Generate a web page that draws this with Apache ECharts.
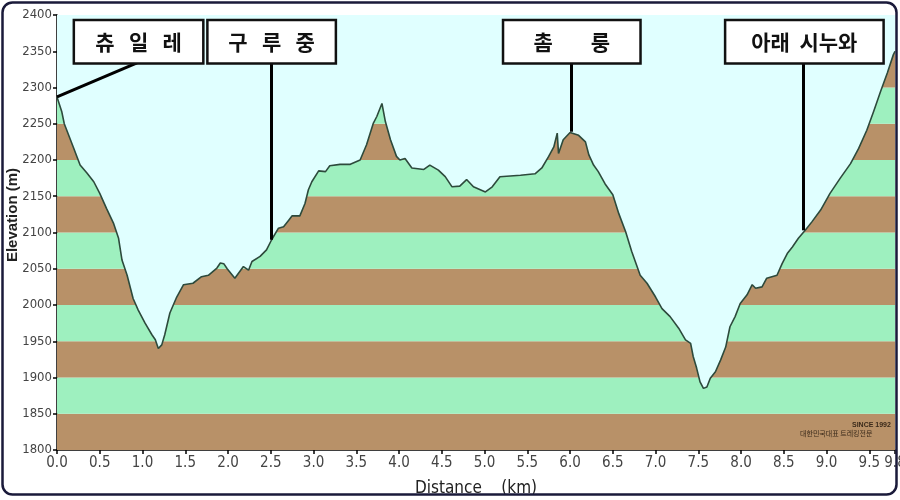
<!DOCTYPE html>
<html>
<head>
<meta charset="utf-8">
<script src="https://cdn.jsdelivr.net/npm/echarts@6/dist/echarts.min.js"></script>
<style>
  html, body { margin: 0; padding: 0; background: #ffffff; }
  #chart { width: 900px; height: 500px; }
</style>
</head>
<body>
<div id="chart"></div>
<script>
// ---- data ----
const distanceKm = [0.00,0.055,0.085,0.19,0.27,0.35,0.43,0.50,0.58,0.66,0.72,0.76,0.82,0.89,0.95,1.03,1.11,1.15,1.185,1.225,1.26,1.32,1.40,1.48,1.59,1.69,1.77,1.87,1.91,1.95,1.99,2.08,2.18,2.24,2.28,2.375,2.45,2.51,2.59,2.65,2.71,2.75,2.84,2.90,2.94,2.98,3.06,3.14,3.19,3.31,3.43,3.545,3.62,3.70,3.74,3.80,3.84,3.90,3.97,4.01,4.07,4.15,4.29,4.36,4.46,4.54,4.62,4.71,4.79,4.87,5.01,5.09,5.18,5.30,5.42,5.59,5.67,5.75,5.81,5.85,5.865,5.92,6.00,6.10,6.18,6.22,6.275,6.33,6.41,6.50,6.57,6.65,6.72,6.82,6.90,7.00,7.075,7.17,7.27,7.35,7.41,7.44,7.48,7.52,7.56,7.60,7.64,7.70,7.76,7.82,7.87,7.93,7.99,8.07,8.13,8.17,8.245,8.30,8.42,8.48,8.54,8.60,8.67,8.75,8.83,8.93,9.04,9.16,9.28,9.375,9.47,9.55,9.63,9.71,9.78,9.80];
const elevationM = [2287,2267,2250,2218,2193,2182,2170,2154,2133,2113,2092,2062,2041,2009,1993,1975,1959,1952,1940,1945,1959,1989,2011,2028,2030,2039,2041,2051,2058,2057,2050,2037,2053,2048,2060,2067,2076,2090,2106,2108,2117,2123,2123,2140,2159,2170,2185,2184,2192,2194,2194,2200,2221,2251,2260,2278,2253,2228,2205,2200,2202,2189,2187,2193,2186,2177,2163,2164,2173,2163,2156,2163,2177,2178,2179,2181,2189,2205,2218,2237,2209,2228,2238,2234,2225,2207,2193,2184,2167,2152,2126,2101,2074,2041,2030,2011,1995,1984,1968,1952,1947,1929,1913,1894,1885,1887,1899,1908,1924,1942,1970,1984,2002,2014,2028,2023,2025,2037,2041,2057,2071,2080,2092,2103,2115,2131,2154,2175,2195,2216,2241,2267,2294,2320,2345,2350];

const yTicks = [1800,1850,1900,1950,2000,2050,2100,2150,2200,2250,2300,2350,2400];

// annotations: place names, leader anchor on profile, box centre
const placeNames   = ['츄   일   레', '구   루   중', '촘        룽', '아래  시누와'];
const anchorX      = [0.00, 2.51, 6.01, 8.73];
const anchorY      = [2287, 2090, 2239, 2103];
const leaderTopX   = [0.936, 2.51, 6.01, 8.73];
const leaderTopY   = [2334, 2334, 2334, 2334];
const boxX         = [0.954, 2.51, 6.02, 8.74];
const boxY         = [2363, 2363, 2363, 2363];
const boxSizes     = [[127,41],[126,41],[135,41],[156,41]];

// ---- build ----
const BROWN = '#b89168', GREEN = '#9ef0bf', SKY = '#e0ffff';
const profile = distanceKm.map((d, i) => [d, elevationM[i]]);
const bands = [];
for (let i = 0; i < yTicks.length - 1; i++) {
  bands.push([{ yAxis: yTicks[i], itemStyle: { color: i % 2 === 0 ? BROWN : GREEN } }, { yAxis: yTicks[i + 1] }]);
}
const leaders = placeNames.map((n, i) => [{ coord: [anchorX[i], anchorY[i]] }, { coord: [leaderTopX[i], leaderTopY[i]] }]);
const boxes = placeNames.map((n, i) => ({
  name: n, coord: [boxX[i], boxY[i]],
  label: { width: boxSizes[i][0], height: boxSizes[i][1], lineHeight: boxSizes[i][1] }
}));

const narrow = '"Liberation Sans Narrow", "DejaVu Sans Condensed", "Liberation Sans", sans-serif';

const chart = echarts.init(document.getElementById('chart'), null, { renderer: 'canvas' });
chart.setOption({
  animation: false,
  backgroundColor: '#ffffff',
  grid: { left: 57, right: 5, top: 15, bottom: 50, containLabel: false, outerBoundsMode: 'none' },
  xAxis: {
    type: 'value', min: 0, max: 9.8, interval: 0.5,
    name: 'Distance    (km)', nameLocation: 'middle', nameGap: 30,
    nameTextStyle: { fontFamily: narrow, fontSize: 17, color: '#222' },
    axisLine: { show: true, lineStyle: { color: '#000', width: 1.5 } },
    axisTick: { show: true, length: 4, lineStyle: { color: '#000', width: 1.5 } },
    axisLabel: { showMaxLabel: true, showMinLabel: true, formatter: v => v.toFixed(1), fontFamily: narrow, fontSize: 15, color: '#444', margin: 6 },
    splitLine: { show: false }
  },
  yAxis: {
    type: 'value', min: 1800, max: 2400, interval: 50,
    axisLine: { show: true, lineStyle: { color: '#000', width: 1.5 } },
    axisTick: { show: true, length: 4, lineStyle: { color: '#000', width: 1.5 } },
    axisLabel: { formatter: v => String(v), fontFamily: narrow, fontSize: 13, color: '#444', margin: 5 },
    splitLine: { show: false }
  },
  series: [{
    type: 'line',
    data: profile,
    symbol: 'none',
    silent: true,
    lineStyle: { color: '#2d4a3c', width: 1.6 },
    areaStyle: { color: SKY, opacity: 1, origin: 'end' },
    markArea: { silent: true, data: bands },
    markLine: {
      silent: true, symbol: ['none', 'none'],
      lineStyle: { color: '#000', width: 3, type: 'solid' },
      label: { show: false },
      data: leaders
    },
    markPoint: {
      silent: true,
      symbol: 'circle',
      symbolSize: 1,
      itemStyle: { color: 'rgba(0,0,0,0)' },
      label: {
        show: true, position: 'inside', formatter: '{b}', align: 'center', verticalAlign: 'middle',
        backgroundColor: '#ffffff', borderColor: '#111', borderWidth: 2.5, padding: 0,
        color: '#111', fontSize: 21, fontWeight: 'bold', fontFamily: '"Noto Sans CJK KR", sans-serif'
      },
      data: boxes
    }
  }],
  graphic: [
    { type: 'text', z: 50, x: 13, y: 215, rotation: Math.PI / 2, silent: true,
      style: { text: 'Elevation (m)', align: 'center', verticalAlign: 'middle', fontSize: 15, fontWeight: 'bold', fill: '#222', fontFamily: '"Liberation Sans", sans-serif' } },
    { type: 'rect', z: 100, silent: true, shape: { x: 2.5, y: 2.5, width: 894, height: 492, r: 10 },
      style: { fill: null, stroke: '#1a1a3a', lineWidth: 2.5 } },
    { type: 'text', z: 50, left: 852, top: 422, style: { text: 'SINCE 1992', fontSize: 7, fontWeight: 'bold', fill: '#3a2a1a', fontFamily: '"Liberation Sans", sans-serif' } },
    { type: 'text', z: 50, left: 800, top: 430, style: { text: '대한민국대표 트레킹전문', fontSize: 7, fill: '#3a2a1a', fontFamily: '"Noto Sans CJK KR", sans-serif' } }
  ]
});
</script>
</body>
</html>
